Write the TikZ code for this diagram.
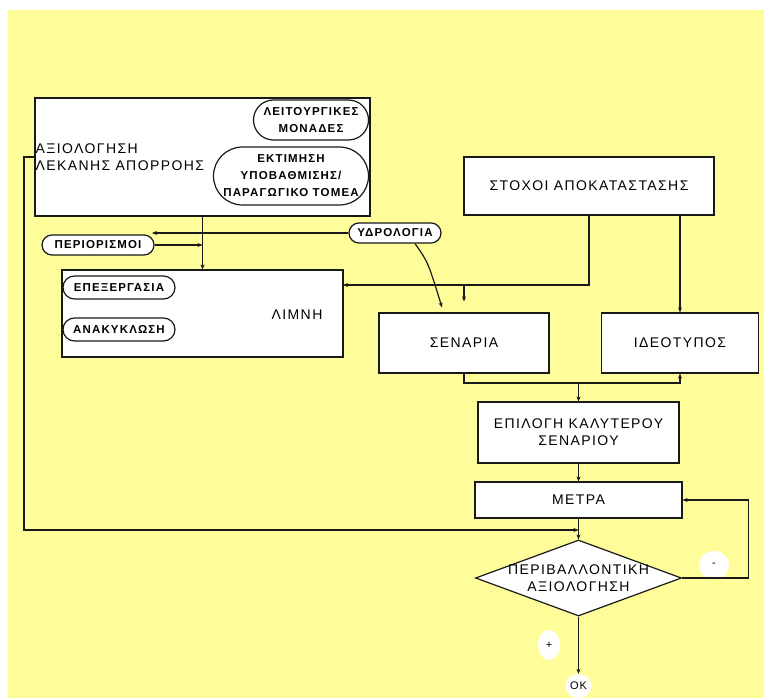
\documentclass[tikz,border=0pt]{standalone}
\usepackage{fontspec}
\setmainfont{Liberation Sans}[LetterSpace=10]
\usepackage{tikz}
\usetikzlibrary{positioning,arrows.meta,shapes.geometric,shapes.misc,calc}
\definecolor{bgyellow}{RGB}{255,253,153}
\definecolor{lineblack}{RGB}{25,25,25}
\tikzset{
  box/.style={draw=lineblack, line width=1.2pt, fill=white, align=center, inner sep=2pt, font=\fontsize{14}{17}\selectfont},
  tag/.style={rounded rectangle, draw=lineblack, line width=1.2pt, fill=white, align=center, inner sep=1pt, font=\fontsize{11.5}{17}\selectfont\bfseries},
  arr/.style={-{Stealth[length=5pt,width=4pt]}, line width=1.2pt, draw=lineblack},
  sign/.style={ellipse, fill=white, inner sep=0pt, font=\fontsize{11}{13}\selectfont},
  txt/.style={align=center, inner sep=1pt, font=\fontsize{14}{17}\selectfont},
}
\begin{document}
\begin{tikzpicture}[x=1pt, y=-1pt]
    \useasboundingbox (0,0) rectangle (764,698);
    \fill[bgyellow] (8,10) rectangle (764,698);

    \node[box, minimum width=335pt, minimum height=118pt] (lekani) at (202.5,157) {};
    \node[txt, anchor=west, align=left] (lekanitxt) at (lekani.west) {ΑΞΙΟΛΟΓΗΣΗ\\ΛΕΚΑΝΗΣ ΑΠΟΡΡΟΗΣ};
    \node[tag, minimum width=117pt, minimum height=40pt] (leit) at (311,120) {ΛΕΙΤΟΥΡΓΙΚΕΣ\\ΜΟΝΑΔΕΣ};
    \node[tag, minimum width=157pt, minimum height=58pt] (ektim) at (291,176) {ΕΚΤΙΜΗΣΗ\\ΥΠΟΒΑΘΜΙΣΗΣ/\\ΠΑΡΑΓΩΓΙΚΟ ΤΟΜΕΑ};

    \node[tag, minimum width=114pt, minimum height=20pt] (perior) at (98,245) {ΠΕΡΙΟΡΙΣΜΟΙ};
    \node[tag, minimum width=94pt, minimum height=20pt] (ydro) at (395,233) {ΥΔΡΟΛΟΓΙΑ};

    \node[box, minimum width=281pt, minimum height=87pt] (limni) at (202.5,313.5) {};
    \node[txt] (limnitxt) at (297,315) {ΛΙΜΝΗ};
    \node[tag, minimum width=114pt, minimum height=23pt] (epex) at (119,287.5) {ΕΠΕΞΕΡΓΑΣΙΑ};
    \node[tag, minimum width=114pt, minimum height=23pt] (anak) at (119,329.5) {ΑΝΑΚΥΚΛΩΣΗ};

    \node[box, minimum width=250pt, minimum height=58pt] (stoxoi) at (589,186) {ΣΤΟΧΟΙ ΑΠΟΚΑΤΑΣΤΑΣΗΣ};
    \node[box, minimum width=170pt, minimum height=60pt] (senaria) at (464,343) {ΣΕΝΑΡΙΑ};
    \node[box, minimum width=157pt, minimum height=60pt] (ideo) at (680,343) {ΙΔΕΟΤΥΠΟΣ};
    \node[box, minimum width=201pt, minimum height=61pt] (epilogi) at (578.5,432.5) {ΕΠΙΛΟΓΗ ΚΑΛΥΤΕΡΟΥ\\ΣΕΝΑΡΙΟΥ};
    \node[box, minimum width=207pt, minimum height=36pt] (metra) at (578.5,500) {ΜΕΤΡΑ};
    \node[box, diamond, inner sep=0pt, minimum width=206pt, minimum height=76pt] (perib) at (578.5,578) {};
    \node[txt] (peribtxt) at (perib.center) {ΠΕΡΙΒΑΛΛΟΝΤΙΚΗ\\ΑΞΙΟΛΟΓΗΣΗ};

    \node[sign, minimum width=26pt, minimum height=24pt] (ok) at (578.5,686) {ΟΚ};
    \node[sign, minimum width=22pt, minimum height=30pt] (plus) at (549,645) {+};
    \node[sign, minimum width=30pt, minimum height=28pt] (minus) at (714,565) {-};

    \coordinate (leftdown) at (24,530);
    \coordinate (fbjoin) at (578.5,530);
    \coordinate (pertop) at (152,233);
    \coordinate (lakein) at (343,285);
    \coordinate (scenin) at (464,285);
    \coordinate (merge) at (578.5,383);

    \draw[arr] (lekani.west) -| (leftdown) -- (fbjoin);
    \draw[arr] (lekani.south) -- (limni.north);
    \draw[arr] (perior.east) -- (perior.east -| limni.north);
    \draw[arr] (ydro.west) -- (pertop);
    \draw[arr] ([xshift=20pt]ydro.south) .. controls (428,262) .. ([xshift=-22pt,yshift=5pt]senaria.north);
    \draw[arr] (stoxoi.south) |- (lakein);
    \draw[arr] (scenin) -- ([yshift=11pt]senaria.north);
    \draw[arr] (stoxoi.south -| ideo.north) -- (ideo.north);
    \draw[arr] (senaria.south) |- (merge) -| (ideo.south);
    \draw[arr] (merge) -- (epilogi.north);
    \draw[arr] (epilogi.south) -- (metra.north);
    \draw[arr] (metra.south) -- (perib.north);
    \draw[arr] (perib.east) -- ++(66,0) |- (metra.east);
    \draw[arr] (perib.south) -- (ok.north);
\end{tikzpicture}
\end{document}
